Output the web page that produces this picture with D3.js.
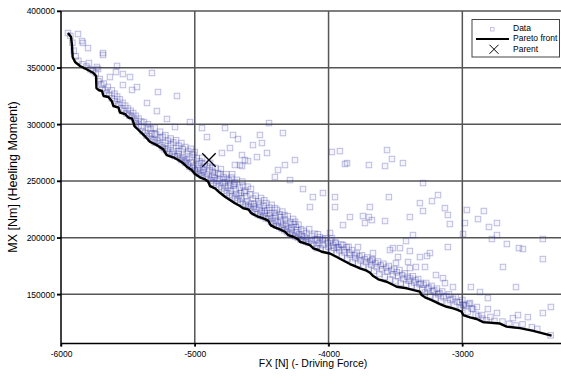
<!DOCTYPE html>
<html>
<head>
<meta charset="utf-8">
<script src="https://cdn.jsdelivr.net/npm/d3@7"></script>
<style>
  body { margin: 0; background: #fff; }
  svg { font-family: "Liberation Sans", Arial, sans-serif; }
</style>
</head>
<body>
<div id="chart"></div>
<script>
// values
const xTicks = [-6000, -5000, -4000, -3000];
const yTicks = [150000, 200000, 250000, 300000, 350000, 400000];

const parent = [-4894, 268500];

// pareto front [FX, MX]
const front = [
  [-5948, 380600], [-5925, 377000], [-5918, 370000], [-5913, 359400], [-5895, 355000],
  [-5858, 351500], [-5806, 348400], [-5757, 345300], [-5738, 342600], [-5735, 332000],
  [-5720, 330300], [-5694, 329400], [-5682, 325000], [-5645, 324100], [-5619, 320100],
  [-5608, 316150], [-5570, 314800], [-5559, 310400], [-5522, 309100], [-5495, 306000],
  [-5469, 305100], [-5458, 301600], [-5451, 298500], [-5421, 295000], [-5383, 290600],
  [-5357, 287500], [-5335, 284600], [-5285, 281700], [-5235, 277900], [-5210, 272900],
  [-5161, 270900], [-5123, 268500], [-5086, 265600], [-5060, 262600], [-5023, 259700],
  [-4998, 256100], [-4961, 253200], [-4924, 251500], [-4899, 249300], [-4886, 245500],
  [-4849, 243500], [-4812, 239600], [-4774, 236100], [-4737, 233200], [-4700, 230300],
  [-4662, 227900], [-4638, 225900], [-4600, 225000], [-4575, 221400], [-4537, 219100],
  [-4488, 217000], [-4451, 215100], [-4434, 211100], [-4401, 209100], [-4363, 207300],
  [-4326, 205200], [-4301, 202300], [-4264, 200800], [-4226, 198500], [-4214, 196400],
  [-4176, 195000], [-4139, 193500], [-4114, 190600], [-4077, 189100], [-4052, 187600],
  [-3990, 186000], [-3939, 182900], [-3890, 179800], [-3840, 176700], [-3803, 174900],
  [-3765, 172900], [-3715, 170800], [-3690, 169000], [-3666, 166100], [-3628, 163200],
  [-3566, 161100], [-3516, 158200], [-3491, 156700], [-3416, 155300], [-3341, 153100],
  [-3317, 152300], [-3304, 149300], [-3279, 147300], [-3229, 144900], [-3167, 141400],
  [-3117, 139000], [-3068, 137600], [-3031, 136100], [-3005, 134600], [-2993, 131700],
  [-2943, 129700], [-2893, 128200], [-2844, 125500], [-2719, 124200], [-2669, 121500],
  [-2569, 120200], [-2470, 117800], [-2333, 113600]
];

// all evaluated designs [FX, MX]
const dataPts = [
  // scattered points
  [-5948, 380600], [-5873, 379700], [-5843, 373500], [-5836, 371800], [-5798, 367300],
  [-5686, 362900], [-5686, 361200], [-5791, 354100], [-5731, 350600], [-5723, 348800],
  [-5581, 351500], [-5589, 346200], [-5634, 341700], [-5537, 344400], [-5484, 341700],
  [-5537, 334700], [-5432, 332900], [-5469, 330300], [-5320, 345300], [-5275, 328500],
  [-5133, 325000], [-5357, 318800], [-5283, 311700], [-5208, 304700], [-5148, 297600],
  [-5036, 302000], [-4946, 296700], [-4909, 288800], [-4774, 296700], [-4714, 290600],
  [-4797, 274700], [-4647, 272900], [-4625, 268500], [-4700, 264100], [-4647, 263200],
  [-4737, 279100], [-4677, 287000], [-4513, 290600], [-4445, 301100], [-4341, 292300],
  [-4565, 281700], [-4498, 283500], [-4460, 274700], [-4535, 271100], [-4602, 267600],
  [-4662, 264100], [-4326, 264100], [-4251, 268500], [-4378, 259700], [-4401, 253500],
  [-4288, 250800], [-4191, 242900], [-4117, 235800], [-4139, 227000], [-4042, 239400],
  [-3952, 235800], [-3952, 227000], [-3975, 275600], [-3915, 276400], [-3862, 265800],
  [-3840, 218200], [-3892, 211100], [-3989, 204100], [-4042, 198800], [-4087, 190800],
  [-3563, 277300], [-3877, 265000], [-3698, 264100], [-3578, 263200], [-3526, 269400],
  [-3444, 265800], [-3294, 248200], [-3182, 237600], [-3227, 232300], [-3317, 230500],
  [-3294, 223500], [-3549, 235800], [-3691, 227000], [-3743, 219100], [-3698, 218200],
  [-3676, 215500], [-3728, 212900], [-3578, 214700], [-3392, 218200], [-3130, 226100],
  [-3108, 220000], [-3093, 212000], [-2966, 224400], [-2839, 223500], [-2883, 216400],
  [-2741, 212900], [-2801, 209400], [-2981, 212900], [-2995, 203200], [-3369, 202300],
  [-3421, 197000], [-3519, 190800], [-3466, 190800], [-3392, 188200], [-3108, 191700],
  [-3242, 186400], [-3264, 183800], [-3317, 182900], [-3541, 189100], [-3496, 177600],
  [-3481, 182900], [-3406, 178500], [-3392, 173200], [-3347, 174100], [-3279, 174100],
  [-3676, 180200], [-3668, 186400], [-3780, 191700], [-3892, 193500], [-3937, 191700],
  [-3975, 199600], [-3197, 167000], [-3145, 164300], [-3130, 159900], [-3070, 156400],
  [-2936, 156400], [-2868, 152000], [-2809, 146700], [-2741, 202300], [-2779, 198800],
  [-2667, 194400], [-2577, 190800], [-2547, 190000], [-2398, 198800], [-2398, 181100],
  [-2696, 174100], [-2599, 156400], [-2338, 138800], [-2398, 133500], [-2510, 129900],
  [-2584, 131700], [-2622, 129000], [-2853, 131700], [-2809, 137000], [-2741, 133500],
  [-2891, 138800], [-2943, 142300], [-2995, 140500],
  // dense band along the front
  [-5930, 378000], [-5915, 372000], [-5905, 365000], [-5890, 360000], [-5870, 356000],
  [-5840, 353000], [-5810, 351000], [-5780, 348500], [-5760, 347000], [-5740, 345000],
  [-5720, 338000], [-5700, 335000], [-5690, 331500], [-5670, 330000],
  [-5660, 327500], [-5640, 326000], [-5620, 323000], [-5600, 320500], [-5590, 318000],
  [-5570, 317500], [-5550, 314000], [-5530, 312000], [-5510, 309500], [-5490, 308000],
  [-5470, 306500], [-5450, 304000], [-5440, 301000], [-5420, 299000], [-5400, 297500],
  [-5710, 340000], [-5680, 336000], [-5650, 333000], [-5620, 330000], [-5600, 327000],
  [-5580, 324500], [-5560, 322000], [-5540, 319000], [-5520, 316500], [-5500, 314000],
  [-5480, 312000], [-5460, 310000], [-5440, 307500], [-5420, 305000], [-5400, 302500],
  [-5390, 294000], [-5370, 292500], [-5360, 290000], [-5340, 289500], [-5330, 287000],
  [-5310, 286000], [-5300, 284000], [-5280, 285500], [-5270, 283000], [-5250, 281500],
  [-5240, 279500], [-5225, 278000], [-5210, 276500], [-5200, 278500], [-5190, 275000],
  [-5170, 273500], [-5160, 276000], [-5150, 272000], [-5130, 271500], [-5120, 273500],
  [-5110, 270000], [-5100, 268500], [-5090, 271000], [-5080, 267500], [-5070, 266000],
  [-5060, 268500], [-5050, 265000], [-5040, 262500], [-5030, 266500], [-5020, 261000],
  [-5010, 263500], [-5000, 259500], [-5180, 282000], [-5260, 288000], [-5320, 292000],
  [-5140, 279000], [-5060, 274000],
  [-5380, 302000], [-5350, 300000], [-5330, 296000], [-5300, 297000], [-5290, 291000],
  [-5260, 293500], [-5240, 289000], [-5220, 290500], [-5200, 285500], [-5180, 287500],
  [-5160, 284000], [-5140, 286000], [-5120, 281000], [-5100, 283500], [-5090, 278000],
  [-5070, 280000], [-5050, 276500], [-5030, 278500], [-5010, 273000], [-5000, 275500],
  [-5220, 283500], [-5120, 276500], [-5040, 270500], [-5300, 291500], [-5350, 296500],
  [-4990, 258000], [-4980, 261000], [-4970, 256500], [-4960, 259000], [-4950, 255000],
  [-4940, 257500], [-4930, 262000], [-4920, 253500], [-4910, 256000], [-4900, 252000],
  [-4890, 259500], [-4880, 250500], [-4870, 254000], [-4860, 248500], [-4850, 252500],
  [-4840, 247000], [-4830, 250000], [-4820, 245000], [-4810, 256000], [-4800, 243500],
  [-4790, 248000], [-4780, 241500], [-4770, 245500], [-4760, 239500], [-4750, 244000],
  [-4740, 238000], [-4730, 241000], [-4720, 236500], [-4710, 246000], [-4700, 235000],
  [-4690, 238500], [-4680, 233500], [-4670, 237000], [-4660, 231500], [-4650, 234500],
  [-4640, 230000], [-4630, 240000], [-4620, 229000], [-4610, 232000], [-4600, 228000],
  [-4950, 266000], [-4870, 262000], [-4760, 252000], [-4700, 249000], [-4580, 243000],
  [-4640, 246000], [-4720, 256000],
  [-4985, 270000], [-4965, 267500], [-4945, 270500], [-4925, 265000], [-4905, 263000],
  [-4885, 266000], [-4865, 258000], [-4845, 261500], [-4825, 257000], [-4805, 260500],
  [-4785, 253500], [-4765, 256000], [-4745, 250500], [-4725, 253000], [-4705, 247500],
  [-4685, 251000], [-4665, 244000], [-4645, 249500], [-4625, 241500], [-4605, 245000],
  [-4975, 264500], [-4935, 259500], [-4855, 255500], [-4815, 251500], [-4775, 249000],
  [-4735, 246500], [-4695, 242500], [-4655, 239500], [-4615, 236500],
  [-4590, 226500], [-4580, 230000], [-4570, 224000], [-4560, 227500], [-4550, 222000],
  [-4540, 225500], [-4530, 220500], [-4520, 229000], [-4510, 219500], [-4500, 223000],
  [-4490, 218500], [-4480, 221500], [-4470, 217000], [-4460, 224000], [-4450, 216500],
  [-4440, 219500], [-4430, 214000], [-4420, 217500], [-4410, 212000], [-4400, 215000],
  [-4390, 210500], [-4380, 213500], [-4370, 209500], [-4360, 218000], [-4350, 208000],
  [-4340, 211500], [-4330, 206500], [-4320, 210000], [-4310, 205000], [-4300, 208000],
  [-4290, 203500], [-4280, 206500], [-4270, 202500], [-4260, 212000], [-4250, 201000],
  [-4240, 204500], [-4230, 200000], [-4220, 203000], [-4210, 198500], [-4200, 201500],
  [-4480, 233000], [-4400, 226000], [-4330, 220000], [-4250, 214000],
  [-4585, 238000], [-4565, 234500], [-4545, 237000], [-4525, 232000], [-4505, 235000],
  [-4485, 228000], [-4465, 230500], [-4445, 226500], [-4425, 229000], [-4405, 222000],
  [-4385, 224500], [-4365, 220500], [-4345, 223000], [-4325, 216000], [-4305, 219000],
  [-4285, 213500], [-4265, 216500], [-4245, 209500], [-4225, 211500], [-4205, 207500],
  [-4555, 230000], [-4515, 226500], [-4475, 224000], [-4435, 221500], [-4395, 219000],
  [-4355, 214500], [-4315, 212500], [-4275, 209000], [-4235, 206500],
  [-4190, 197500], [-4180, 200500], [-4170, 196500], [-4160, 199000], [-4150, 195500],
  [-4130, 197500], [-4120, 194500], [-4100, 198000], [-4090, 192500], [-4070, 195000],
  [-4060, 190500], [-4040, 193500], [-4020, 189500], [-4000, 192000], [-3980, 188000],
  [-3960, 191000], [-3940, 186000], [-3920, 189000], [-3900, 183500], [-3880, 187000],
  [-3860, 181500], [-3840, 185000], [-3820, 178500], [-3800, 182000], [-4080, 203000],
  [-3950, 196000], [-3850, 192000],
  [-4185, 206000], [-4165, 204000], [-4145, 207500], [-4125, 201500], [-4105, 203500],
  [-4085, 198500], [-4065, 200500], [-4045, 197500], [-4025, 199500], [-4005, 195500],
  [-3985, 197500], [-3965, 193500], [-3945, 195000], [-3925, 191500], [-3905, 194000],
  [-3885, 189500], [-3865, 191500], [-3845, 186500], [-3825, 189000], [-3805, 184500],
  [-3780, 177000], [-3760, 180000], [-3740, 174500], [-3720, 178500], [-3700, 172500],
  [-3680, 176000], [-3660, 170500], [-3640, 174000], [-3620, 168000], [-3600, 172000],
  [-3580, 165500], [-3560, 170000], [-3540, 163000], [-3520, 167500], [-3500, 161500],
  [-3480, 166000], [-3460, 160000], [-3440, 163500], [-3420, 158500], [-3400, 162000],
  [-3790, 186000], [-3770, 183500], [-3750, 184500], [-3730, 181000], [-3710, 182500],
  [-3690, 179000], [-3670, 181000], [-3650, 177500], [-3630, 179000], [-3610, 175500],
  [-3590, 177000], [-3570, 173500], [-3550, 175000], [-3530, 171000], [-3510, 172500],
  [-3490, 169500], [-3470, 171500], [-3450, 167000], [-3430, 168500], [-3410, 165500],
  [-3380, 157500], [-3360, 160500], [-3340, 156000], [-3320, 159000], [-3300, 154000],
  [-3280, 151500], [-3260, 155000], [-3240, 149000], [-3220, 152500], [-3200, 146500],
  [-3180, 150000], [-3160, 144000], [-3140, 147500], [-3110, 142000], [-3090, 145000],
  [-3060, 140000], [-3040, 143500], [-3010, 138000], [-2990, 141000], [-2960, 134500],
  [-2930, 137500], [-2900, 132000],
  [-3390, 164000], [-3370, 166000], [-3350, 162500], [-3330, 163500], [-3310, 160000],
  [-3290, 158500], [-3270, 160000], [-3250, 156000], [-3230, 157500], [-3210, 153500],
  [-3190, 155000], [-3170, 151000], [-3150, 152500], [-3120, 148500], [-3100, 150000],
  [-3070, 146000], [-3050, 147500], [-3020, 143000], [-3000, 145000], [-2970, 140000],
  [-2950, 141500], [-2920, 137000],
  [-2880, 130500], [-2850, 128500], [-2820, 127000], [-2790, 130000], [-2760, 126500],
  [-2700, 126000], [-2650, 124000], [-2600, 122500], [-2550, 123500], [-2480, 121000],
  [-2440, 119500], [-2340, 113800]
];

const W = 561, H = 377;
const markColor = "#3a3aa8";

const svg = d3.select("#chart").append("svg")
  .attr("width", W)
  .attr("height", H);

const x = d3.scaleLinear().domain([-6000, -2255]).range([61, 562]);
const y = d3.scaleLinear().domain([106600, 400000]).range([343.5, 11]);

// grid
svg.append("g")
  .selectAll("line.vgrid")
  .data(xTicks.slice(1))
  .enter().append("line")
  .attr("x1", d => x(d)).attr("x2", d => x(d))
  .attr("y1", y(400000)).attr("y2", y.range()[0] + 3)
  .attr("stroke", "#555").attr("stroke-width", 1.5);

svg.append("g")
  .selectAll("line.hgrid")
  .data(yTicks)
  .enter().append("line")
  .attr("x1", x.range()[0] - 4).attr("x2", W + 2)
  .attr("y1", d => y(d)).attr("y2", d => y(d))
  .attr("stroke", "#555").attr("stroke-width", 1.5);

// data squares
const s = 5.5;
svg.append("g")
  .selectAll("rect")
  .data(dataPts)
  .enter().append("rect")
  .attr("x", d => x(d[0]) - s / 2)
  .attr("y", d => y(d[1]) - s / 2)
  .attr("width", s).attr("height", s)
  .attr("fill", markColor).attr("fill-opacity", 0.05)
  .attr("stroke", markColor).attr("stroke-opacity", 0.32)
  .attr("stroke-width", 1);

// pareto front
const line = d3.line().x(d => x(d[0])).y(d => y(d[1]));
svg.append("path")
  .datum(front)
  .attr("d", line)
  .attr("fill", "none")
  .attr("stroke", "#000")
  .attr("stroke-width", 2.4)
  .attr("stroke-linejoin", "round");

// parent
const cross = (g, cx, cy, r, w) => {
  g.append("path")
    .attr("d", `M${cx - r},${cy - r}L${cx + r},${cy + r}M${cx - r},${cy + r}L${cx + r},${cy - r}`)
    .attr("stroke", "#000").attr("stroke-width", w).attr("fill", "none");
};
cross(svg, x(parent[0]), y(parent[1]), 6.7, 1.3);

// axes
const xAxis = d3.axisBottom(x).tickValues(xTicks).tickSize(3).tickFormat(d3.format("d"));
const yAxis = d3.axisLeft(y).tickValues(yTicks).tickSize(4).tickFormat(d3.format("d"));

const gx = svg.append("g")
  .attr("transform", `translate(0,${y.range()[0]})`)
  .call(xAxis);
const gy = svg.append("g")
  .attr("transform", `translate(${x.range()[0]},0)`)
  .call(yAxis);

[gx, gy].forEach(g => {
  g.select(".domain").attr("stroke", "#000").attr("stroke-width", 1.5);
  g.selectAll(".tick line").attr("stroke", "#000").attr("stroke-width", 1.5);
  g.selectAll(".tick text")
    .attr("fill", "#000")
    .style("font-size", "8.5px")
    .style("font-family", "'Liberation Sans', Arial, sans-serif");
});
gx.select(".domain").attr("d", `M${x.range()[0]},0H${W + 2}`);
gy.select(".domain").attr("d", `M0,${y.range()[1]}V${y.range()[0] + 3}`);
gx.selectAll(".tick text").attr("dy", "0.71em").attr("y", 7).text(d => d3.format("d")(d).replace("−", "-"));
gy.selectAll(".tick text").attr("x", -6);

svg.append("text")
  .attr("x", 313).attr("y", 367)
  .attr("text-anchor", "middle")
  .style("font-size", "10.5px")
  .text("FX [N] (- Driving Force)");

svg.append("text")
  .attr("transform", `translate(17,177) rotate(-90)`)
  .attr("text-anchor", "middle")
  .style("font-size", "12.5px")
  .text("MX [Nm] (Heeling Moment)");

// legend
const lg = svg.append("g");
lg.append("rect")
  .attr("x", 472).attr("y", 19.5).attr("width", 87.5).attr("height", 37.5)
  .attr("fill", "#fff").attr("stroke", "#444").attr("stroke-width", 1);
lg.append("rect")
  .attr("x", 490.5).attr("y", 27.5).attr("width", 3.5).attr("height", 3.5)
  .attr("fill", "none").attr("stroke", markColor).attr("stroke-opacity", 0.3);
lg.append("line")
  .attr("x1", 476).attr("x2", 509).attr("y1", 39).attr("y2", 39)
  .attr("stroke", "#000").attr("stroke-width", 1.8);
cross(lg, 494, 49.3, 4.5, 1);
const legendLabels = ["Data", "Pareto front", "Parent"];
lg.selectAll("text")
  .data(legendLabels)
  .enter().append("text")
  .attr("x", 513).attr("y", (d, i) => 30.8 + i * 10.5)
  .style("font-size", "8.5px")
  .text(d => d);
</script>
</body>
</html>
